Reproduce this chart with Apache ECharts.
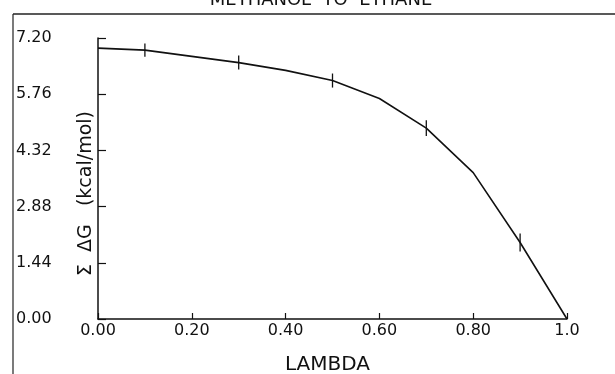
<!DOCTYPE html>
<html>
<head>
<meta charset="utf-8">
<script src="https://cdn.jsdelivr.net/npm/echarts@6/dist/echarts.min.js"></script>
<style>
  html, body { margin: 0; padding: 0; background: #fff; }
  #chart { width: 615px; height: 374px; }
</style>
</head>
<body>
<div id="chart"></div>
<script>
// lambda steps and cumulative free energy (kcal/mol)
const lambdas = [0.0, 0.1, 0.2, 0.3, 0.4, 0.5, 0.6, 0.7, 0.8, 0.9, 1.0];
const sumDG = [6.94, 6.89, 6.73, 6.57, 6.37, 6.11, 5.65, 4.89, 3.75, 1.96, 0.0];

// error bars only drawn on the odd windows
const errLambdas = [0.1, 0.3, 0.5, 0.7, 0.9];
const errValues = [6.89, 6.57, 6.11, 4.89, 1.96];
const errSizes = [0.17, 0.18, 0.18, 0.2, 0.23];

const font = 'DejaVu Sans';
const chart = echarts.init(document.getElementById('chart'));

const option = {
  backgroundColor: '#fff',
  animation: false,
  title: {
    text: 'METHANOL  TO  ETHANE',
    left: 316,
    textAlign: 'center',
    top: -14,
    textStyle: { fontFamily: font, fontSize: 18, fontWeight: 'normal', color: '#111' }
  },
  graphic: [
    // scanned page frame
    { type: 'line', shape: { x1: 13, y1: 14, x2: 615, y2: 14 }, style: { stroke: '#222', lineWidth: 1.5 } },
    { type: 'line', shape: { x1: 13, y1: 14, x2: 13, y2: 374 }, style: { stroke: '#222', lineWidth: 1.2 } }
  ],
  grid: { left: 98, right: 48, top: 38, bottom: 55, containLabel: false, outerBoundsMode: 'none' },
  xAxis: {
    type: 'value',
    min: 0,
    max: 1,
    interval: 0.2,
    name: 'LAMBDA',
    nameLocation: 'middle',
    nameGap: 36,
    nameMoveOverlap: false,
    nameTextStyle: { fontFamily: font, fontSize: 20, color: '#111', padding: [0, 10, 0, 0] },
    axisLine: { lineStyle: { color: '#111', width: 1.5 } },
    axisTick: { inside: true, length: 6, lineStyle: { color: '#111', width: 1.2 } },
    axisLabel: {
      margin: 4,
      fontFamily: font,
      fontSize: 16,
      color: '#111',
      formatter: v => (v === 1 ? '1.0' : v.toFixed(2))
    },
    splitLine: { show: false }
  },
  yAxis: {
    type: 'value',
    min: 0,
    max: 7.2,
    interval: 1.44,
    name: 'Σ  ΔG   (kcal/mol)',
    nameLocation: 'middle',
    nameGap: 2,
    nameRotate: 90,
    nameMoveOverlap: false,
    nameTextStyle: { fontFamily: font, fontSize: 19, color: '#111', padding: [0, 30, 0, 0] },
    axisLine: { lineStyle: { color: '#111', width: 1.5 } },
    axisTick: { inside: true, length: 8, lineStyle: { color: '#111', width: 1.2 } },
    axisLabel: {
      margin: 82,
      align: 'left',
      fontFamily: font,
      fontSize: 16,
      color: '#111',
      formatter: v => v.toFixed(2)
    },
    splitLine: { show: false }
  },
  series: [
    {
      type: 'line',
      data: lambdas.map((x, i) => [x, sumDG[i]]),
      showSymbol: false,
      lineStyle: { color: '#111', width: 1.6 }
    },
    {
      type: 'custom',
      data: errLambdas.map((x, i) => [x, errValues[i] - errSizes[i], errValues[i] + errSizes[i]]),
      renderItem: (params, api) => {
        const lo = api.coord([api.value(0), api.value(1)]);
        const hi = api.coord([api.value(0), api.value(2)]);
        return {
          type: 'line',
          shape: { x1: lo[0], y1: lo[1], x2: hi[0], y2: hi[1] },
          style: { stroke: '#111', lineWidth: 1.3 }
        };
      },
      z: 3
    }
  ]
};

chart.setOption(option);
</script>
</body>
</html>
